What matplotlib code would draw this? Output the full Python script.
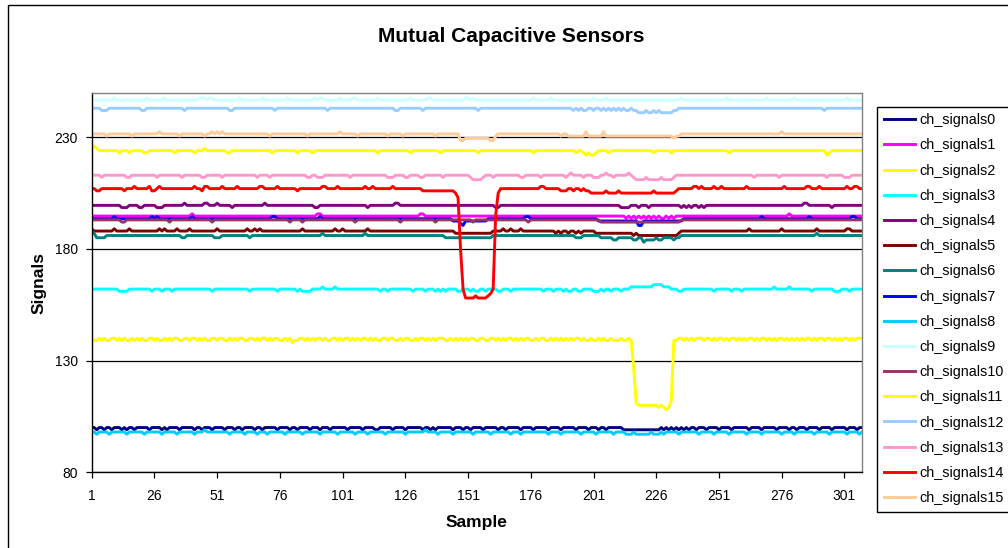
import numpy as np
import matplotlib
matplotlib.use("Agg")
import matplotlib.pyplot as plt
from matplotlib.patches import Rectangle

plt.rcParams['font.family'] = ['Liberation Sans', 'DejaVu Sans']


def levels(base, code):
    """Decode a per-sample code string: digit '5' is the base level,
    each digit above/below shifts the reading by one count."""
    digits = code.replace(" ", "")
    return [base + int(c) - 5 for c in digits]


N_SAMPLES = 308
samples = np.arange(1, N_SAMPLES + 1)
xtick_values = list(range(1, N_SAMPLES + 1, 25))
ytick_values = [80, 130, 180, 230]

ch_signals0 = levels(100, (
    "5545545545 5545455455 5554555545 4555545555 5455455545 "
    "5554555455 4555545545 5555455554 5545555455 5455545555 "
    "5545555545 5554455555 4555545555 5545545455 5555455545 "
    "5455554555 5545545555 5455554555 5545555455 5554555545 "
    "5545545555 5544444444 4444444545 4545454545 5455545555 "
    "4555545555 5545555455 5554555545 5455545555 4555545555 "
    "54555455"))

ch_signals1 = levels(194.7, (
    "5555555555 5555555555 5555555555 5555555555 6555555555 "
    "5555555555 5555555555 5555555555 5555555555 6655555555 "
    "5555555555 5555555555 5555555555 5665555555 5555555555 "
    "5555555555 5555555555 5555555555 5555555555 5555555555 "
    "5555555555 5554545454 5454545445 4545555555 5555555555 "
    "5555555555 5555555555 5555555565 5555555555 5555555555 "
    "55555555"))

ch_signals2 = levels(224, (
    "6765555555 5455545555 5445555555 5554555555 5455565555 "
    "5555445555 5555555555 5545555555 5545555545 5555555555 "
    "5555555555 5555455555 5555555455 5555555554 5555555555 "
    "5555455555 5555555555 5555554555 5555555555 5554554343 "
    "3455554555 5555555555 5555455555 5455555555 5555555555 "
    "5555455555 5555555555 5555555555 5555555555 5553455555 "
    "55555555"))

ch_signals3 = levels(162, (
    "5555555555 5444455555 5555455545 5545555555 5555555545 "
    "5555555555 5554555555 5555455555 5545444455 5565555655 "
    "5555555555 5555545545 5555555545 5554555454 5455554455 "
    "5454455455 5544555455 5555555555 4555455545 4455445555 "
    "4445455455 5455566666 6666777766 6555445555 5555555545 "
    "5555545554 5555555555 5565555565 5555555455 5555554445 "
    "55455555"))

ch_signals4 = levels(199.5, (
    "5555555555 5544455554 4555554445 5555555655 5555566555 "
    "6555554555 5555555556 5555555555 5555555554 4555555555 "
    "5555555555 4555555555 5665555555 5555555555 5555555555 "
    "5555555555 5445555555 5555555555 5555555555 5555555555 "
    "5555555555 5444455545 5545555555 5555545454 5545455555 "
    "5555555555 5555555555 5555555555 5555665555 5555545555 "
    "55555555"))

ch_signals5 = levels(188, (
    "6555555556 5555565555 5555555656 5555655556 5555555555 "
    "6555555555 5565565655 5555555555 5555655555 5555555655 "
    "6555555555 6555555555 5555555555 5555555555 5555544444 "
    "4444444444 5555655655 5655555555 5555545455 4554545555 "
    "5444444444 4444443433 3333333333 3333455555 5555555555 "
    "5555555555 5565555555 5555565555 5555555556 5555555555 "
    "56655555"))

ch_signals6 = levels(186, (
    "7644445555 5555555555 5555555555 5555554455 5555555554 "
    "4455555555 5554555555 5555555555 5555555555 5565555555 "
    "5555555556 5555555555 5555555555 5555555555 5444444444 "
    "4444444444 5555555555 5555555555 5555555555 5554445555 "
    "5554444433 4444443344 2333343344 4434455555 5555555555 "
    "5555555555 5555555555 5555555555 5555555556 5555555555 "
    "55555555"))

ch_signals7 = levels(193.5, (
    "5555555556 5555555555 5555656555 5555555555 6555555555 "
    "5555555555 5555555555 5566555555 5555555555 5655555555 "
    "5555555555 5555555555 5555555555 5555555555 5555444324 "
    "4444444455 5555555555 5556655555 5555555555 5555555555 "
    "5544444444 4444444422 4444444444 4444445555 5555555555 "
    "5555555555 5555555655 5555555555 5555556555 5555555555 "
    "55566555"))

ch_signals8 = levels(98, (
    "5545555455 5555455555 5455555545 5555455555 5455565555 "
    "5555545555 5455554555 4555555455 5555455555 5455555545 "
    "5555545555 4555555455 5555545555 5556555545 5555455555 "
    "5545555554 5555555455 5455555555 5545555455 5555545555 "
    "5455555545 5554445444 4445444545 5555455555 5545555545 "
    "5555455555 5455555455 5555545555 4555555545 5555455555 "
    "54555545"))

ch_signals9 = levels(246.6, (
    "5555555556 5555555555 5565555556 5555555555 5556665665 "
    "5555555556 5555555565 5555555565 5555555556 5665555556 "
    "5555665555 5555655555 5555555655 5555665555 5555555556 "
    "6565555555 5555555555 5555556555 5556555555 5555555555 "
    "6555565555 5555555555 5555555555 5555565555 5555555555 "
    "5556555555 5555555556 5555555555 6555555555 5555555555 "
    "56555555"))

ch_signals10 = levels(193, (
    "5555555555 5544555555 5555555555 5455555555 5555555545 "
    "5555555555 5555555555 5555555554 5555455555 5555555555 "
    "5555545555 5555555555 5554555555 5555555455 5555555555 "
    "5545555555 5555555555 5555455555 5555555555 5555555555 "
    "5554444444 4444444444 4444444444 4444455555 5555555555 "
    "5555555555 5555555555 5555555555 5555555555 5555555555 "
    "55555555"))

# ch_signals11: touch on this channel around samples 217-232
ch11_before = levels(140, (
    "5445454455 4545445454 5445545445 4545544554 5545454455 "
    "4554454545 5445545455 4545544545 3445545454 5545445545 "
    "4554545455 4545445545 5445455445 4554545455 5445454545 "
    "4554455445 5454545545 4545544545 5445454545 4545545445 "
    "4454544544 454454"))
ch11_touch = [127, 111, 110, 110, 110, 110, 110, 110,
              110, 110, 109, 110, 109, 108, 109, 112]
ch11_after = levels(140, (
    "4455454545 5545545455 4545545454 5545455454 5455454545 "
    "4545545455 4554545455 454555"))
ch_signals11 = ch11_before + ch11_touch + ch11_after

ch_signals12 = levels(243, (
    "5555444555 5555555555 4455555555 5555555455 5555555555 "
    "5555544555 5555555555 5554555555 5555555555 5555455555 "
    "5555555555 5555555555 5445555555 5545555555 5555555555 "
    "5555455555 5555555555 5555555555 5555555555 5545454455 "
    "4554545454 5454454433 3433434333 3344555555 5555555555 "
    "5555555555 5555555555 5555555555 5555555555 5545555555 "
    "55555555"))

ch_signals13 = levels(213, (
    "5555455555 5555445555 5555554555 5555554555 5555445555 "
    "5545555555 5555554555 5455555555 5555554455 4445555555 "
    "5554555555 5555555544 4555544555 5445555555 4555555555 "
    "5433334555 4555555555 5445555554 5555555554 5655554555 "
    "4445565545 5555654333 3433333433 3345555555 5555555555 "
    "5555555555 5555455555 5555455555 5555555555 5554555555 "
    "44455555"))

# ch_signals14: touch on this channel around samples 147-162
ch14_before = levels(207, (
    "5544555555 5554555655 5556445655 5555555555 5655466555 "
    "5565555565 5555555665 5555655555 5545555555 5566555565 "
    "5555555556 5565555555 6555555555 5544444444 44444"))
ch14_touch = [205, 203, 180, 162, 158, 158, 158, 158, 159,
              158, 158, 158, 158, 159, 160, 162, 195, 205]
ch14_after = levels(207, (
    "5555555555 5555556655 5555444554 5545443333 3343333433 "
    "3333333333 3433333333 4555555665 6555565565 5555555565 "
    "5555555555 5556555555 5566555655 5555555565 56655"))
ch_signals14 = ch14_before + ch14_touch + ch14_after

ch_signals15 = levels(231.5, (
    "5555554555 5555554555 5555555655 5555545555 5555545565 "
    "6565555555 5555555555 5455555555 5555554555 5555555556 "
    "5555554555 5555555545 5555455555 5555555455 5555555223 "
    "3333333332 2455555555 5555555555 5555555455 4444444644 "
    "4444644444 4444444444 4444444444 4434455555 5555555555 "
    "5555555555 5555555555 5555565555 5555555555 5555555555 "
    "55555555"))

series_names = [f"ch_signals{i}" for i in range(16)]
series_values = [ch_signals0, ch_signals1, ch_signals2, ch_signals3,
                 ch_signals4, ch_signals5, ch_signals6, ch_signals7,
                 ch_signals8, ch_signals9, ch_signals10, ch_signals11,
                 ch_signals12, ch_signals13, ch_signals14, ch_signals15]
series_colors = ["#000080", "#FF00FF", "#FFFF00", "#00FFFF",
                 "#800080", "#800000", "#008080", "#0000FF",
                 "#00CCFF", "#CCFFFF", "#993366", "#FFFF00",
                 "#99CCFF", "#FF99CC", "#FF0000", "#FFCC99"]

for name, vals in zip(series_names, series_values):
    assert len(vals) == N_SAMPLES, (name, len(vals))

W, H = 1008, 548
fig = plt.figure(figsize=(W / 100, H / 100), dpi=100)

# chart-area frame
fig.patches.append(Rectangle((8 / W, -0.5), 2.0, 1 - 5 / H + 0.5,
                             transform=fig.transFigure, fill=False,
                             ec="black", lw=1.0))

left, right, top, bottom = 91.7, 862.0, 92.6, 472.2
ax = fig.add_axes([left / W, 1 - bottom / H,
                   (right - left) / W, (bottom - top) / H])

for name, vals, color in zip(series_names, series_values, series_colors):
    ax.plot(samples, vals, color=color, lw=2.1, label=name)

ax.set_xlim(1, N_SAMPLES)
ax.set_ylim(80, 250)
ax.set_xticks(xtick_values)
ax.set_xticklabels([str(v) for v in xtick_values])
ax.set_yticks(ytick_values)
ax.yaxis.grid(True, color="black", lw=0.9)
ax.set_axisbelow(True)
ax.tick_params(direction="out", length=4, width=0.9, labelsize=10,
               colors="black")
ax.tick_params(axis="y", pad=6)
ax.tick_params(axis="x", pad=8)
for side in ("top", "right"):
    ax.spines[side].set_color("#808080")
    ax.spines[side].set_linewidth(1.0)
for side in ("left", "bottom"):
    ax.spines[side].set_color("black")
    ax.spines[side].set_linewidth(1.0)

leg = ax.legend(loc="upper left", bbox_to_anchor=(877 / W, 1 - 106.7 / H),
                bbox_transform=fig.transFigure, fontsize=10.4,
                frameon=True, fancybox=False, edgecolor="black",
                framealpha=1, borderpad=0.45, labelspacing=0.775,
                handlelength=2.15, handletextpad=0.35, borderaxespad=0)
leg.get_frame().set_linewidth(1.0)

fig.text(511.5 / W, 1 - 36 / H, "Mutual Capacitive Sensors",
         ha="center", va="center", fontsize=15, fontweight="bold")
fig.text(476 / W, 1 - 523 / H, "Sample", ha="center", va="center",
         fontsize=12.5, fontweight="bold")
fig.text(39 / W, 1 - 282.5 / H, "Signals", ha="center", va="center",
         rotation=90, fontsize=12.5, fontweight="bold")

fig.savefig("out.png", dpi=100)
